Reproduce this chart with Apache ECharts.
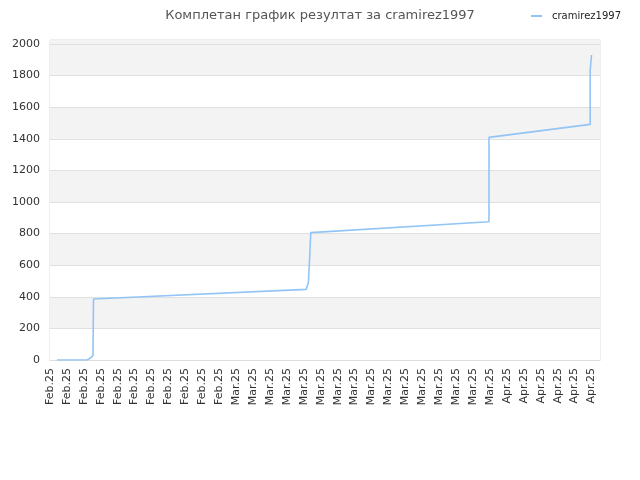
<!DOCTYPE html>
<html>
<head>
<meta charset="utf-8">
<script src="https://cdn.jsdelivr.net/npm/echarts@6/dist/echarts.min.js"></script>
<style>html,body{margin:0;padding:0;background:#fff}#c{width:640px;height:480px}</style>
</head>
<body>
<div id="c"></div>
<script>
var tickLabels = [
  'Feb.25','Feb.25','Feb.25','Feb.25','Feb.25','Feb.25','Feb.25','Feb.25','Feb.25','Feb.25','Feb.25',
  'Mar.25','Mar.25','Mar.25','Mar.25','Mar.25','Mar.25','Mar.25','Mar.25','Mar.25','Mar.25','Mar.25','Mar.25','Mar.25','Mar.25','Mar.25','Mar.25',
  'Apr.25','Apr.25','Apr.25','Apr.25','Apr.25','Apr.25'
];
// positions along the x axis (in tick units) and cumulative score
var pointPos = [0.41, 2.19, 2.27, 2.42, 2.54, 2.57, 15.13, 15.27, 15.34, 15.41, 25.94, 25.94, 31.92, 31.92, 32.0, 32.0];
var scores   = [0, 0, 5, 15, 30, 386, 447, 489, 643, 806, 875, 1409, 1491, 1835, 1840, 1930];
var seriesName = 'cramirez1997';
var titleText = 'Комплетан график резултат за cramirez1997';

var data = pointPos.map(function (p, i) { return [p, scores[i]]; });

var chart = echarts.init(document.getElementById('c'));
chart.setOption({
  animation: false,
  textStyle: { fontFamily: 'DejaVu Sans' },
  title: {
    text: titleText,
    left: 'center',
    top: 4,
    textStyle: { fontSize: 13, fontWeight: 'normal', color: '#555', fontFamily: 'DejaVu Sans' }
  },
  legend: {
    right: 14,
    top: 6,
    icon: 'rect',
    itemWidth: 11,
    itemHeight: 2,
    textStyle: { fontSize: 10, color: '#222', padding: [0, 0, 0, 5] },
    data: [seriesName]
  },
  grid: {
    left: 50, right: 40, top: 40, bottom: 120,
    show: true, borderColor: '#dddddd', borderWidth: 1, backgroundColor: 'transparent'
  },
  xAxis: {
    type: 'value',
    min: 0,
    max: 32.5,
    interval: 1,
    axisLine: { show: true, lineStyle: { color: '#dddddd' } },
    axisTick: { show: false },
    splitLine: { show: false },
    axisLabel: {
      rotate: 90,
      margin: 8,
      fontSize: 11,
      color: '#333',
      showMaxLabel: false,
      formatter: function (v) { return tickLabels[v] || ''; }
    }
  },
  yAxis: {
    type: 'value',
    min: 0,
    max: 2025,
    interval: 200,
    axisLine: { show: false },
    axisTick: { show: false },
    axisLabel: {
      fontSize: 11, color: '#333', margin: 10,
      formatter: function (v) { return v % 200 === 0 ? String(v) : ''; }
    },
    splitLine: { show: true, lineStyle: { color: '#e0e0e0' } },
    splitArea: { show: true, areaStyle: { color: ['#ffffff', '#f3f3f3'] } }
  },
  series: [{
    name: seriesName,
    type: 'line',
    data: data,
    showSymbol: false,
    symbol: 'none',
    color: '#92c5f5',
    lineStyle: { width: 1.6, color: '#92c5f5' },
    markArea: {
      silent: true,
      itemStyle: { color: '#f3f3f3' },
      data: [[{ yAxis: 2000 }, { yAxis: 2025 }]]
    }
  }]
});
</script>
</body>
</html>
